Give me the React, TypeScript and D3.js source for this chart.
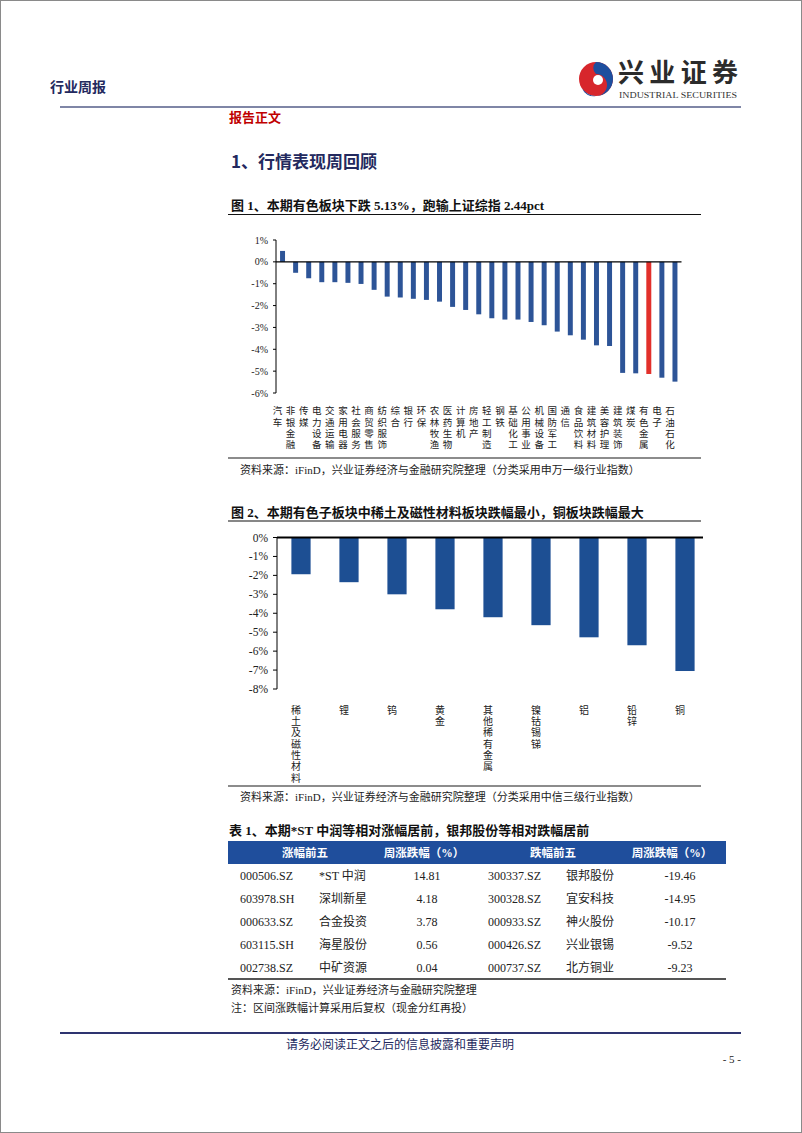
import React from 'react';
import * as d3 from 'd3';

// 图1：申万一级行业周涨跌幅（%）
const industries = ['汽车', '非银金融', '传媒', '电力设备', '交通运输', '家用电器', '社会服务', '商贸零售', '纺织服饰', '综合', '银行', '环保', '农林牧渔', '医药生物', '计算机', '房地产', '轻工制造', '钢铁', '基础化工', '公用事业', '机械设备', '国防军工', '通信', '食品饮料', '建筑材料', '美容护理', '建筑装饰', '煤炭', '有色金属', '电子', '石油石化'];
const industryChanges = [0.5, -0.5, -0.75, -0.93, -0.93, -0.96, -1.01, -1.28, -1.59, -1.63, -1.69, -1.74, -1.82, -2.06, -2.2, -2.4, -2.58, -2.64, -2.64, -2.75, -2.9, -3.19, -3.36, -3.56, -3.82, -3.85, -5.08, -5.1, -5.13, -5.3, -5.48];
const highlight = '有色金属';
const ticks1 = [1, 0, -1, -2, -3, -4, -5, -6];

// 图2：有色子板块周涨跌幅（%）
const subSectors = ['稀土及磁性材料', '锂', '钨', '黄金', '其他稀有金属', '镍钴锡锑', '铝', '铅锌', '铜'];
const subChanges = [-1.94, -2.36, -3.0, -3.79, -4.21, -4.63, -5.27, -5.69, -7.05];
const ticks2 = [0, -1, -2, -3, -4, -5, -6, -7, -8];

// 表1
const tableHeaders = ['涨幅前五', '周涨跌幅（%）', '跌幅前五', '周涨跌幅（%）'];
const gainCodes = ['000506.SZ', '603978.SH', '000633.SZ', '603115.SH', '002738.SZ'];
const gainNames = ['*ST 中润', '深圳新星', '合金投资', '海星股份', '中矿资源'];
const gainValues = ['14.81', '4.18', '3.78', '0.56', '0.04'];
const lossCodes = ['300337.SZ', '300328.SZ', '000933.SZ', '000426.SZ', '000737.SZ'];
const lossNames = ['银邦股份', '宜安科技', '神火股份', '兴业银锡', '北方铜业'];
const lossValues = ['-19.46', '-14.95', '-10.17', '-9.52', '-9.23'];

const serif = "'Liberation Serif', 'Noto Sans CJK SC', serif";
const cjk = "'Noto Sans CJK SC', 'Liberation Serif', sans-serif";
const navy = '#23295e';

// vertical category label, one character under another
const VLabel = ({ x, y, text, step, size }: { x: number; y: number; text: string; step: number; size: number }) => (
  <text x={x} y={y} fontFamily={cjk} fontSize={size} fill="#222"
    style={{ writingMode: 'vertical-rl', letterSpacing: `${step - size}px` }}>
    {text}
  </text>
);

const App: React.FC = () => {
  // chart 1 scales
  const x1 = d3.scaleBand<string>().domain(industries).range([276, 681.5]).paddingInner(0.62).paddingOuter(0.31);
  const y1 = d3.scaleLinear().domain([-6, 1]).range([393, 240]);

  // chart 2 scales
  const x2 = d3.scaleBand<string>().domain(subSectors).range([277, 709]).paddingInner(0.6).paddingOuter(0.3);
  const y2 = d3.scaleLinear().domain([-8, 0]).range([689, 537.5]);

  const rowY = d3.scaleBand<number>().domain(d3.range(5)).range([864, 979]);
  const fmt = (v: number) => `${v}%`;

  return (
    <svg width={802} height={1133} style={{ position: 'absolute', left: 0, top: 0, background: '#fff' }}>
      <rect x={0.5} y={0.5} width={801} height={1132} fill="#fff" stroke="#8a8a8a" />

      {/* header */}
      <text x={50} y={92} fontFamily={cjk} fontSize={14} fontWeight="bold" fill={navy}>行业周报</text>
      <g>
        <circle cx={596} cy={79} r={17} fill="#d7262c" />
        <path d="M596,62 A17,17 0 0 1 596,96 A11,11 0 0 0 596,74 A8,8 0 0 1 596,62 Z" fill="#1d4e9e" />
        <path d="M596,96 A17,17 0 0 1 582,88 A12,12 0 0 0 596,96 Z" fill="#1d4e9e" />
        <circle cx={598} cy={80} r={5} fill="#fff" />
      </g>
      <text x={618} y={82} fontFamily={cjk} fontSize={26} fontWeight="bold" fill="#2b2b2b" textLength={120}>兴业证券</text>
      <text x={619} y={98} fontFamily={serif} fontSize={7.5} fill="#333" textLength={118} lengthAdjust="spacingAndGlyphs">INDUSTRIAL SECURITIES</text>
      <line x1={60} x2={741} y1={107} y2={107} stroke="#7f86a6" strokeWidth={2} />
      <text x={229} y={122} fontFamily={cjk} fontSize={13} fontWeight="bold" fill="#c00000">报告正文</text>
      <text x={231} y={168} fontFamily={cjk} fontSize={17} fontWeight="bold" fill={navy}>1、行情表现周回顾</text>

      {/* figure 1 */}
      <text x={231} y={210} fontFamily={serif} fontSize={13} fontWeight="bold" fill="#111">图 1、本期有色板块下跌 5.13%，跑输上证综指 2.44pct</text>
      <line x1={228} x2={701} y1={214.5} y2={214.5} stroke="#111" strokeWidth={1.2} />
      <g>
        {industries.map((d, i) => {
          const v = industryChanges[i];
          return (
            <rect key={d} x={x1(d)} width={x1.bandwidth()} y={y1(Math.max(0, v))} height={Math.abs(y1(v) - y1(0))}
              fill={d === highlight ? '#e2302b' : '#2d5497'} />
          );
        })}
        <line x1={276} x2={681.5} y1={y1(0)} y2={y1(0)} stroke="#000" strokeWidth={1.2} />
        <line x1={276} x2={276} y1={y1(1)} y2={y1(-6)} stroke="#000" strokeWidth={1} />
        {ticks1.map(t => (
          <g key={t}>
            <line x1={273} x2={276} y1={y1(t)} y2={y1(t)} stroke="#000" />
            <text x={268} y={y1(t) + 3.5} textAnchor="end" fontFamily={serif} fontSize={10} fill="#222">{fmt(t)}</text>
          </g>
        ))}
        {industries.map(d => (
          <VLabel key={d} x={(x1(d) as number) + x1.bandwidth() / 2 - 5} y={406} text={d} step={11.2} size={9.5} />
        ))}
      </g>
      <line x1={228} x2={701} y1={458} y2={458} stroke="#8c8c8c" strokeWidth={2} />
      <text x={240} y={474} fontFamily={serif} fontSize={11} fill="#222">资料来源：iFinD，兴业证券经济与金融研究院整理（分类采用申万一级行业指数）</text>

      {/* figure 2 */}
      <text x={231} y={517} fontFamily={serif} fontSize={13} fontWeight="bold" fill="#111">图 2、本期有色子板块中稀土及磁性材料板块跌幅最小，铜板块跌幅最大</text>
      <line x1={228} x2={701} y1={521} y2={521} stroke="#111" strokeWidth={1.2} />
      <g>
        {subSectors.map((d, i) => (
          <rect key={d} x={x2(d)} width={x2.bandwidth()} y={y2(0)} height={y2(subChanges[i]) - y2(0)} fill="#1d4f93" />
        ))}
        <line x1={277} x2={703} y1={y2(0)} y2={y2(0)} stroke="#000" strokeWidth={1.8} />
        <line x1={277} x2={277} y1={y2(0)} y2={y2(-8)} stroke="#000" strokeWidth={1} />
        {ticks2.map(t => (
          <g key={t}>
            <line x1={273} x2={277} y1={y2(t)} y2={y2(t)} stroke="#000" />
            <text x={268} y={y2(t) + 4} textAnchor="end" fontFamily={serif} fontSize={11.5} fill="#222">{fmt(t)}</text>
          </g>
        ))}
        {subSectors.map(d => (
          <VLabel key={d} x={(x2(d) as number) + x2.bandwidth() / 2 - 5} y={705} text={d} step={11.3} size={10} />
        ))}
      </g>
      <line x1={228} x2={701} y1={786} y2={786} stroke="#8c8c8c" strokeWidth={2} />
      <text x={240} y={801} fontFamily={serif} fontSize={11} fill="#222">资料来源：iFinD，兴业证券经济与金融研究院整理（分类采用中信三级行业指数）</text>

      {/* table 1 */}
      <text x={229} y={835} fontFamily={serif} fontSize={13} fontWeight="bold" fill="#111">表 1、本期*ST 中润等相对涨幅居前，银邦股份等相对跌幅居前</text>
      <rect x={228} y={841} width={498} height={23} fill="#1f4e9c" />
      {tableHeaders.map((h, i) => (
        <text key={i} x={[305, 424, 553, 672][i]} y={857} textAnchor="middle" fontFamily={serif} fontSize={11.5} fontWeight="bold" fill="#fff">{h}</text>
      ))}
      {gainCodes.map((c, i) => {
        const y = (rowY(i) as number) + rowY.bandwidth() / 2 + 4.5;
        return (
          <g key={c} fontFamily={serif} fontSize={12} fill="#222">
            <text x={240} y={y}>{c}</text>
            <text x={319} y={y}>{gainNames[i]}</text>
            <text x={427} y={y} textAnchor="middle">{gainValues[i]}</text>
            <text x={488} y={y}>{lossCodes[i]}</text>
            <text x={566} y={y}>{lossNames[i]}</text>
            <text x={680} y={y} textAnchor="middle">{lossValues[i]}</text>
          </g>
        );
      })}
      <line x1={228} x2={726} y1={979} y2={979} stroke="#555" strokeWidth={2} />
      <text x={231} y={994} fontFamily={serif} fontSize={11} fill="#222">资料来源：iFinD，兴业证券经济与金融研究院整理</text>
      <text x={231} y={1012} fontFamily={serif} fontSize={11} fill="#222">注：区间涨跌幅计算采用后复权（现金分红再投）</text>

      {/* footer */}
      <line x1={60} x2={741} y1={1033} y2={1033} stroke="#2e3470" strokeWidth={2} />
      <text x={400} y={1049} textAnchor="middle" fontFamily={cjk} fontSize={12} fill={navy}>请务必阅读正文之后的信息披露和重要声明</text>
      <text x={741} y={1063} textAnchor="end" fontFamily={serif} fontSize={11} fill="#222">- 5 -</text>
    </svg>
  );
};

export default App;
